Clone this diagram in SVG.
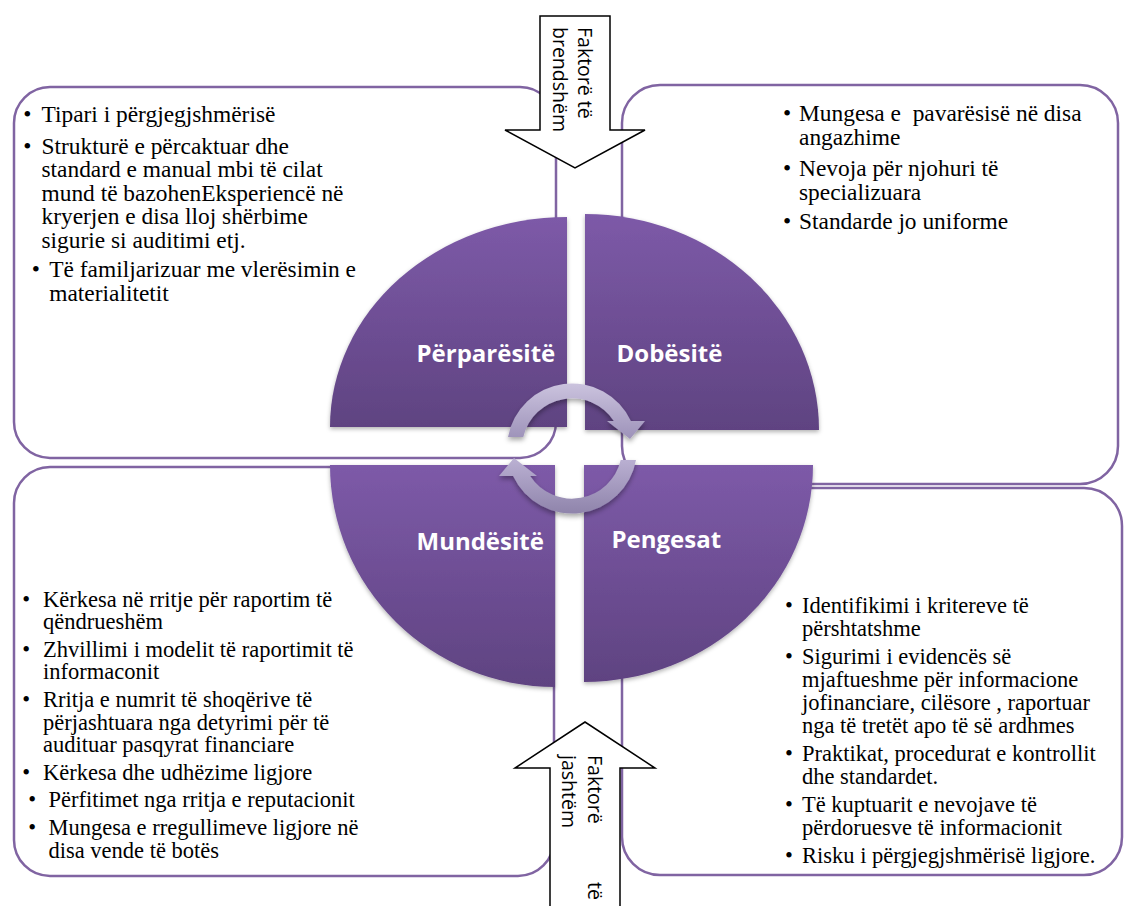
<svg xmlns="http://www.w3.org/2000/svg" width="1125" height="906" viewBox="0 0 1125 906">
  <defs>
    <linearGradient id="qgrad" x1="0" y1="0" x2="0" y2="1">
      <stop offset="0" stop-color="#7d5aa8"/>
      <stop offset="1" stop-color="#5f4381"/>
    </linearGradient>
    <linearGradient id="ringTop" x1="0" y1="0" x2="0" y2="1">
      <stop offset="0" stop-color="#cbc3de"/>
      <stop offset="1" stop-color="#9d92b9"/>
    </linearGradient>
    <linearGradient id="ringBottom" x1="0" y1="0" x2="0" y2="1">
      <stop offset="0" stop-color="#bbb1d3"/>
      <stop offset="1" stop-color="#8f84ab"/>
    </linearGradient>
    <filter id="qshadow" x="-10%" y="-10%" width="120%" height="125%">
      <feDropShadow dx="0" dy="2" stdDeviation="2" flood-color="#000" flood-opacity="0.3"/>
    </filter>
    <filter id="rshadow" x="-20%" y="-20%" width="140%" height="150%">
      <feDropShadow dx="0" dy="3" stdDeviation="2.5" flood-color="#000" flood-opacity="0.35"/>
    </filter>
    <style>
      .box { fill: #fff; stroke: #8064a2; stroke-width: 2.5; }
      .quad { fill: url(#qgrad); filter: url(#qshadow); }
      .qlabel { font-family: "Open Sans", "DejaVu Sans", sans-serif; font-weight: 700; font-size: 24px; fill: #fff; }
      .body { font-family: "Liberation Serif", "Times New Roman", serif; font-size: 23.4px; fill: #000; }
      .sm { font-size: 22.5px; }
      .blk { fill: #fff; stroke: #000; stroke-width: 1.5; stroke-linejoin: miter; }
      .blktxt { font-family: "Open Sans", "DejaVu Sans", sans-serif; font-size: 19.5px; fill: #000; }
      .ring { filter: url(#rshadow); }
    </style>
  </defs>

  <!-- Strengths box -->
  <g id="box-strengths">
    <rect class="box" x="14" y="87" width="542" height="371" rx="36" ry="36"/>
    <text class="body">
      <tspan x="30.3" y="122" text-anchor="middle">•</tspan>
      <tspan x="41.5" y="122">Tipari i përgjegjshmërisë</tspan>
      <tspan x="30.3" y="153.5" text-anchor="middle">•</tspan>
      <tspan x="41.5" y="153.5">Strukturë e përcaktuar dhe</tspan>
      <tspan x="41.5" y="177">standard e manual mbi të cilat</tspan>
      <tspan x="41.5" y="200.5">mund të bazohenEksperiencë në</tspan>
      <tspan x="41.5" y="224">kryerjen e disa lloj shërbime</tspan>
      <tspan x="41.5" y="247.5">sigurie si auditimi etj.</tspan>
      <tspan x="38.7" y="277" text-anchor="middle">•</tspan>
      <tspan x="49.3" y="277">Të familjarizuar me vlerësimin e</tspan>
      <tspan x="49.3" y="300.5">materialitetit</tspan>
    </text>
  </g>

  <!-- Weaknesses box -->
  <g id="box-weaknesses">
    <rect class="box" x="622" y="85" width="496" height="399" rx="38" ry="38"/>
    <text class="body" xml:space="preserve"><tspan x="787" y="121" text-anchor="middle">•</tspan><tspan x="799" y="121">Mungesa e  pavarësisë në disa</tspan><tspan x="799" y="145">angazhime</tspan><tspan x="787" y="176" text-anchor="middle">•</tspan><tspan x="799" y="176">Nevoja për njohuri të</tspan><tspan x="799" y="200">specializuara</tspan><tspan x="787" y="229" text-anchor="middle">•</tspan><tspan x="799" y="229">Standarde jo uniforme</tspan></text>
  </g>

  <!-- Opportunities box -->
  <g id="box-opportunities">
    <rect class="box" x="14" y="467" width="540" height="409" rx="36" ry="36"/>
    <text class="body sm">
      <tspan x="29" y="606.5" text-anchor="middle">•</tspan>
      <tspan x="43" y="606.5">Kërkesa në rritje për raportim të</tspan>
      <tspan x="43" y="629.1">qëndrueshëm</tspan>
      <tspan x="29" y="656.7" text-anchor="middle">•</tspan>
      <tspan x="43" y="656.7">Zhvillimi i modelit të raportimit të</tspan>
      <tspan x="43" y="679.3">informaconit</tspan>
      <tspan x="29" y="706.9" text-anchor="middle">•</tspan>
      <tspan x="43" y="706.9">Rritja e numrit të shoqërive të</tspan>
      <tspan x="43" y="729.5">përjashtuara nga detyrimi për të</tspan>
      <tspan x="43" y="752.1">audituar pasqyrat financiare</tspan>
      <tspan x="29" y="779.7" text-anchor="middle">•</tspan>
      <tspan x="43" y="779.7">Kërkesa dhe udhëzime ligjore</tspan>
      <tspan x="35" y="807.3" text-anchor="middle">•</tspan>
      <tspan x="48.5" y="807.3">Përfitimet nga rritja e reputacionit</tspan>
      <tspan x="35" y="834.9" text-anchor="middle">•</tspan>
      <tspan x="48.5" y="834.9">Mungesa e rregullimeve ligjore në</tspan>
      <tspan x="48.5" y="857.5">disa vende të botës</tspan>
    </text>
  </g>

  <!-- Threats box -->
  <g id="box-threats">
    <rect class="box" x="622" y="488" width="500" height="387" rx="38" ry="38"/>
    <text class="body sm">
      <tspan x="791.7" y="613" text-anchor="middle">•</tspan>
      <tspan x="802" y="613">Identifikimi i kritereve të</tspan>
      <tspan x="802" y="636">përshtatshme</tspan>
      <tspan x="791.7" y="664" text-anchor="middle">•</tspan>
      <tspan x="802" y="664">Sigurimi i evidencës së</tspan>
      <tspan x="802" y="687">mjaftueshme për informacione</tspan>
      <tspan x="802" y="710">jofinanciare, cilësore , raportuar</tspan>
      <tspan x="802" y="733">nga të tretët apo të së ardhmes</tspan>
      <tspan x="791.7" y="761" text-anchor="middle">•</tspan>
      <tspan x="802" y="761">Praktikat, procedurat e kontrollit</tspan>
      <tspan x="802" y="784">dhe standardet.</tspan>
      <tspan x="791.7" y="812" text-anchor="middle">•</tspan>
      <tspan x="802" y="812">Të kuptuarit e nevojave të</tspan>
      <tspan x="802" y="835">përdoruesve të informacionit</tspan>
      <tspan x="791.7" y="863" text-anchor="middle">•</tspan>
      <tspan x="802" y="863">Risku i përgjegjshmërisë ligjore.</tspan>
    </text>
  </g>

  <!-- Internal factors: block arrow pointing down -->
  <g id="arrow-internal">
    <path class="blk" d="M540,16 H610 V130 H645 L575,168 L505,130 H540 Z"/>
    <text class="blktxt" transform="translate(578,27) rotate(90)">
      <tspan x="0" y="0">Faktorë të</tspan>
      <tspan x="0" y="25">brendshëm</tspan>
    </text>
  </g>

  <!-- External factors: block arrow pointing up -->
  <g id="arrow-external">
    <path class="blk" d="M550,912 V768 H515 L585,722 L655,768 H620 V912"/>
    <text class="blktxt" transform="translate(588,755) rotate(90)">
      <tspan x="0" y="0">Faktorë</tspan>
      <tspan x="127" y="0">të</tspan>
      <tspan x="0" y="26">jashtëm</tspan>
    </text>
  </g>

  <!-- Quadrants -->
  <g id="quad-strengths">
    <path class="quad" d="M567,427 L330,427 A237,210 0 0,1 567,217 Z"/>
    <text class="qlabel" x="416.5" y="362">Përparësitë</text>
  </g>
  <g id="quad-weaknesses">
    <path class="quad" d="M585,430 L585,214 A234,216 0 0,1 819,430 Z"/>
    <text class="qlabel" x="616.5" y="362">Dobësitë</text>
  </g>
  <g id="quad-opportunities">
    <path class="quad" d="M555,465 L555,687 A225,222 0 0,1 330,465 Z"/>
    <text class="qlabel" x="416.5" y="550">Mundësitë</text>
  </g>
  <g id="quad-threats">
    <path class="quad" d="M584,465 L813,465 A229,217 0 0,1 584,682 Z"/>
    <text class="qlabel" x="611.5" y="548">Pengesat</text>
  </g>

  <!-- Cycle arrows -->
  <g id="connectors">
    <path class="ring" fill="url(#ringTop)" d="M508,437 A65,65 0 0,1 630.9,421 L645,421 L630,439 L607,421 L613.8,421 A50,50 0 0,0 523.3,437 Z"/>
    <path class="ring" fill="url(#ringBottom)" d="M636,460 A65,65 0 0,1 513.1,476 L499,476 L514,458 L537,476 L530.2,476 A50,50 0 0,0 620.7,460 Z"/>
  </g>
</svg>
